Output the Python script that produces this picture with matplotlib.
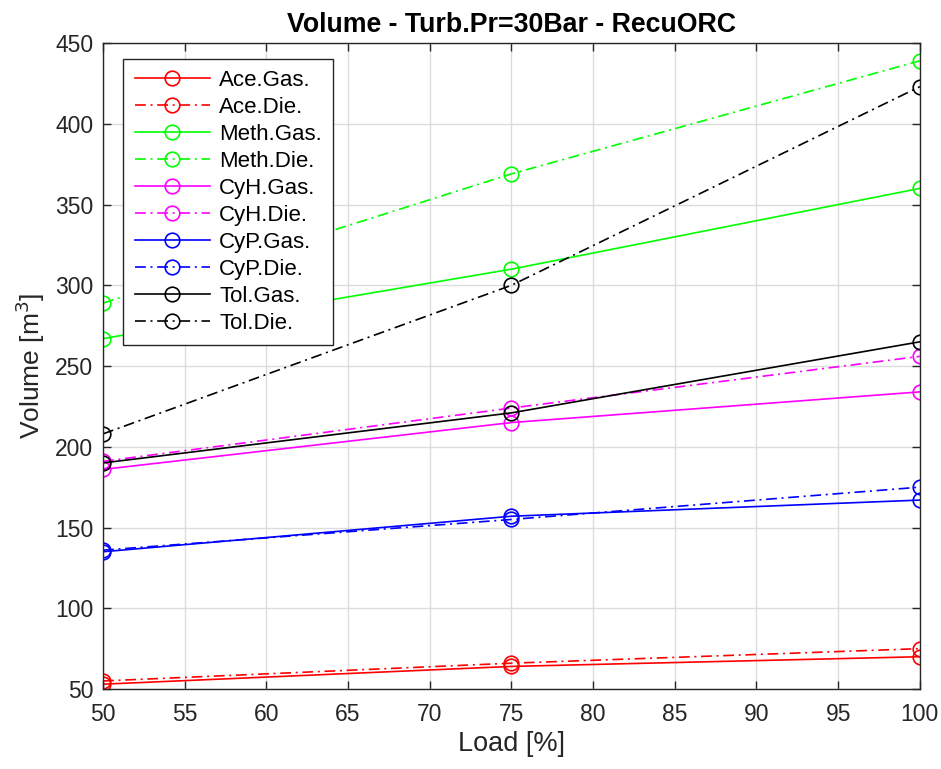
import matplotlib.pyplot as plt

load = [50, 75, 100]

ace_gas = [53, 64, 70]
ace_die = [55, 66, 75]
meth_gas = [267, 310, 360]
meth_die = [289, 369, 439]
cyh_gas = [186, 215, 234]
cyh_die = [191, 224, 256]
cyp_gas = [135, 157, 167]
cyp_die = [136, 155, 175]
tol_gas = [190, 221, 265]
tol_die = [208, 300, 423]

series = [
    ("Ace.Gas.", ace_gas, "#ff0000", "-"),
    ("Ace.Die.", ace_die, "#ff0000", "-."),
    ("Meth.Gas.", meth_gas, "#00ff00", "-"),
    ("Meth.Die.", meth_die, "#00ff00", "-."),
    ("CyH.Gas.", cyh_gas, "#ff00ff", "-"),
    ("CyH.Die.", cyh_die, "#ff00ff", "-."),
    ("CyP.Gas.", cyp_gas, "#0000ff", "-"),
    ("CyP.Die.", cyp_die, "#0000ff", "-."),
    ("Tol.Gas.", tol_gas, "#000000", "-"),
    ("Tol.Die.", tol_die, "#000000", "-."),
]

plt.rcParams['font.family'] = ['Liberation Sans', 'DejaVu Sans']

fig = plt.figure(figsize=(9.41, 7.69), dpi=100)
ax = fig.add_axes([0.1095, 0.104, 0.868, 0.840])

for name, vals, col, ls in series:
    line, = ax.plot(load, vals, color=col, linestyle=ls, linewidth=1.2,
                    marker='o', markersize=10.5, markerfacecolor='none',
                    markeredgewidth=1.2, label=name)
    if ls == "-.":
        line.set_dashes([6.5, 2.8, 1.2, 2.8])

ax.set_xlim(50, 100)
ax.set_ylim(50, 450)
ax.set_xticks(range(50, 101, 5))
ax.set_yticks(range(50, 451, 50))
ax.grid(True, color='#dcdcdc', linewidth=1.0)
ax.set_axisbelow(True)
ax.tick_params(direction='in', length=6, width=1, labelsize=16.5, colors='#262626',
               top=True, right=True)
ax.tick_params(axis='x', pad=10)
ax.tick_params(axis='y', pad=7)
for sp in ax.spines.values():
    sp.set_color('#262626')
    sp.set_linewidth(1.0)

ax.set_xlabel("Load [%]", fontsize=19.5, color='#262626', labelpad=4)
ax.set_ylabel("Volume [m$^3$]", fontsize=19, color='#262626', labelpad=6)
ax.set_title("Volume - Turb.Pr=30Bar - RecuORC", fontsize=19.3, fontweight='bold', pad=8)

leg = ax.legend(loc='upper left', bbox_to_anchor=(0.025, 0.976), fontsize=16,
                handlelength=3.4, labelspacing=0.27, borderpad=0.5,
                fancybox=False, framealpha=1, edgecolor='#262626',
                handletextpad=0.4, borderaxespad=0)
leg.get_frame().set_linewidth(1.0)

fig.savefig("out.png", dpi=100)
